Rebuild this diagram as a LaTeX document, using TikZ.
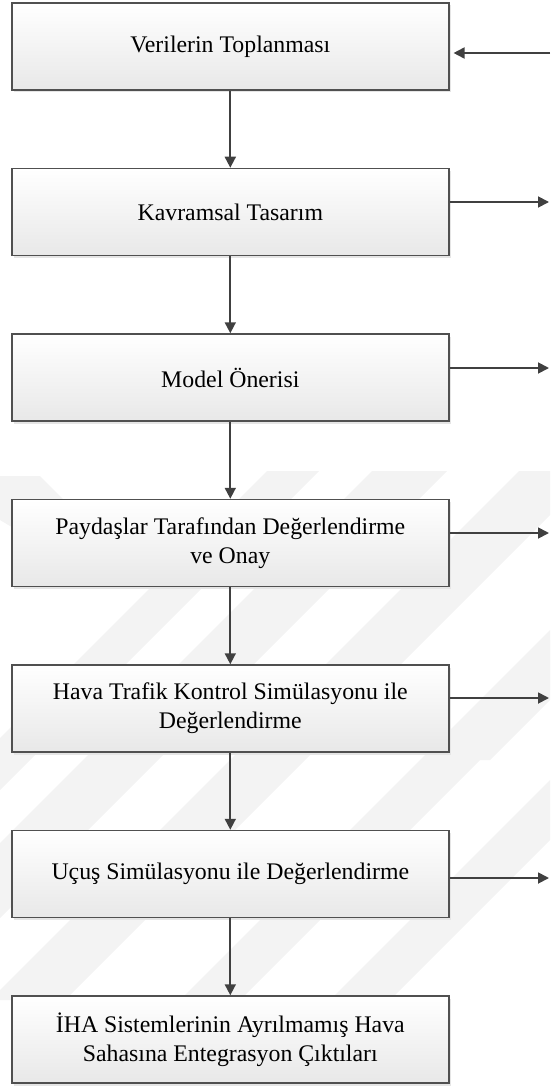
\documentclass[tikz,border=0pt]{standalone}
\usepackage{fontspec}
\setmainfont{Liberation Serif}
\usetikzlibrary{arrows.meta,shadows}
\definecolor{edge}{HTML}{505050}
\definecolor{link}{HTML}{404040}
\definecolor{mark}{HTML}{F3F3F3}
\tikzset{
  stage/.style={draw=edge, line width=1.5pt, top color=white, bottom color=black!9,
    minimum width=437pt, minimum height=87pt, inner sep=0pt, align=center,
    font=\fontsize{23.8}{29}\selectfont,
    drop shadow={shadow xshift=2.5pt, shadow yshift=-2.5pt, fill=black!10, opacity=1}},
  flow/.style={draw=link, line width=1.8pt, -{Triangle[length=11pt,width=11pt]}},
  slash/.style={fill=mark},
}
\begin{document}
\begin{tikzpicture}[x=1pt,y=-1pt]
\useasboundingbox (0,0) rectangle (550,1086);

% faint background emblem: diagonal bands
\begin{scope}
  \clip (0,471) rectangle (550,1000);
  \foreach \a/\b in {738/790, 843/918, 990/1065, 1180/1240, 1330/1390}{
    \fill[slash] (\a-471,471) -- (\b-471,471) -- (\b-1000,1000) -- (\a-1000,1000) -- cycle;
  }
  \fill[slash] (0,476) -- (40,476) -- (150,586) -- (110,586) -- (0,520) -- cycle;
  \fill[slash] (550,640) -- (550,700) -- (490,760) -- (440,760) -- cycle;
\end{scope}

% process stages
\node[stage] (s1) at (230.3,46.5)  {Verilerin Toplanması};
\node[stage] (s2) at (230.3,212)   {Kavramsal Tasarım};
\node[stage] (s3) at (230.3,377.5) {Model Önerisi};
\node[stage] (s4) at (230.3,543)   {Paydaşlar Tarafından Değerlendirme\\ve Onay};
\node[stage] (s5) at (230.3,708.5) {Hava Trafik Kontrol Simülasyonu ile\\Değerlendirme};
\node[stage] (s6) at (230.3,874)   {Uçuş Simülasyonu ile Değerlendirme};
\node[stage] (s7) at (230.3,1039.5){İHA Sistemlerinin Ayrılmamış Hava\\Sahasına Entegrasyon Çıktıları};

% main sequence
\draw[flow] (s1) -- (s2);
\draw[flow] (s2) -- (s3);
\draw[flow] (s3) -- (s4);
\draw[flow] (s4) -- (s5);
\draw[flow] (s5) -- (s6);
\draw[flow] (s6) -- (s7);

% side connections
\coordinate (i1) at (550,53);
\draw[flow, shorten >=4pt] (i1) -- (i1 -| s1.east);
\coordinate (o2) at (549,202);
\coordinate (o3) at (549,368);
\coordinate (o4) at (549,533);
\coordinate (o5) at (549,698);
\coordinate (o6) at (549,878);
\draw[flow] (o2 -| s2.east) -- (o2);
\draw[flow] (o3 -| s3.east) -- (o3);
\draw[flow] (o4 -| s4.east) -- (o4);
\draw[flow] (o5 -| s5.east) -- (o5);
\draw[flow] (o6 -| s6.east) -- (o6);
\end{tikzpicture}
\end{document}
